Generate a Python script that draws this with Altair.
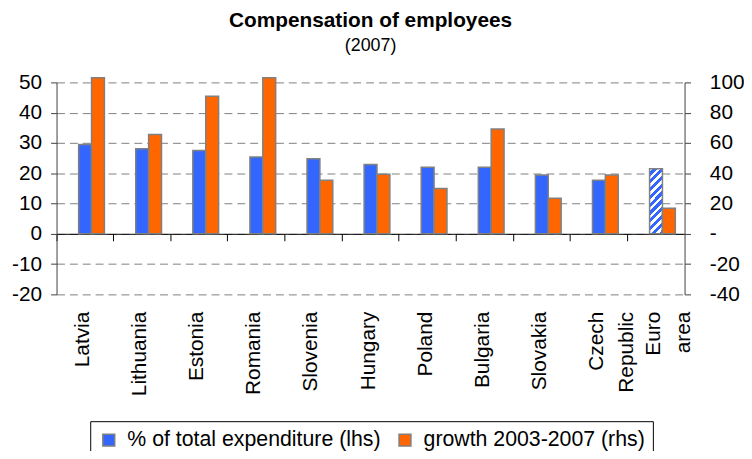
import altair as alt
import pandas as pd

# ---- data ----
countries = ["Latvia", "Lithuania", "Estonia", "Romania", "Slovenia", "Hungary",
             "Poland", "Bulgaria", "Slovakia", "Czech Republic", "Euro area"]
share_total_exp = [29.5, 28.1, 27.5, 25.4, 24.8, 22.9, 22.0, 22.0, 19.4, 17.7, 21.5]
growth_03_07 = [103, 65.6, 90.8, 103, 35.3, 39.3, 30.0, 69.3, 23.5, 38.8, 16.9]
series_names = ["% of total expenditure (lhs)", "growth 2003-2007 (rhs)"]
series_colors = ["#3366FF", "#FF6600"]
lhs_ticks = [-20, -10, 0, 10, 20, 30, 40, 50]
rhs_ticks = [-40, -20, 0, 20, 40, 60, 80, 100]
hatched_country = "Euro area"

df = pd.DataFrame({"country": countries, "share": share_total_exp, "growth": growth_03_07})

FONT = "Liberation Sans"
FS = 21
W, H = 634, 214
LHS_DOMAIN = [-20, 50]
RHS_DOMAIN = [-40, 100]
zero_offset = -(H * (0 - LHS_DOMAIN[0]) / (LHS_DOMAIN[1] - LHS_DOMAIN[0]))

BAR_W = 13
EDGE = "#808080"

x_scale = alt.Scale(domain=countries, paddingInner=0, paddingOuter=0)

color_scale = alt.Scale(domain=series_names, range=series_colors)
legend = alt.Legend(
    title=None, orient="none", legendX=34, legendY=342, direction="horizontal",
    symbolType="square", symbolSize=144, symbolStrokeColor=EDGE, symbolStrokeWidth=1.5,
    symbolOpacity=1, labelFont=FONT, labelFontSize=21.5, labelColor="black", labelLimit=500,
    strokeColor="black", fillColor="white", padding=8, columnPadding=13, labelOffset=8,
)

# hatch fill approximated with a striped linear gradient
stops = []
n_stripes = 10
for i in range(n_stripes):
    a = i / n_stripes
    b = (i + 0.45) / n_stripes
    c = (i + 1) / n_stripes
    stops += [alt.GradientStop(offset=a, color="white"), alt.GradientStop(offset=b, color="white"),
              alt.GradientStop(offset=b, color=series_colors[0]), alt.GradientStop(offset=c, color=series_colors[0])]
hatch = alt.LinearGradient(gradient="linear", x1=0, y1=0, x2=0.2308, y2=1.154, stops=stops)

left_axis = alt.Axis(
    values=lhs_ticks, title=None, grid=True, gridDash=[8, 5], gridColor=EDGE, gridWidth=1,
    domainColor="#404040", domainWidth=1, tickColor="#404040", tickSize=6, labelPadding=9,
    labelFont=FONT, labelFontSize=FS, labelColor="black", labelOverlap=False,
    labelExpr="'' + datum.value",
)
left_scale = alt.Scale(domain=LHS_DOMAIN, nice=False, zero=False)

base = alt.Chart(df)

blue = base.transform_filter(alt.datum.country != hatched_country).transform_calculate(
    series=f"'{series_names[0]}'"
).mark_bar(width=BAR_W, stroke=EDGE, strokeWidth=1.5).encode(
    x=alt.X("country:N", sort=countries, scale=x_scale,
            axis=alt.Axis(title=None, domain=False, ticks=False, tickSize=0, labelAngle=270,
                          labelPadding=17, labelOffset=-2, labelFont=FONT, labelFontSize=FS,
                          labelColor="black", labelExpr="split(datum.label, ' ')",
                          labelLineHeight=30, grid=False)),
    y=alt.Y("share:Q", scale=left_scale, axis=left_axis),
    y2=alt.datum(0),
    color=alt.Color("series:N", scale=color_scale, legend=legend),
)

hatched = base.transform_filter(alt.datum.country == hatched_country).mark_bar(
    width=BAR_W, stroke=EDGE, strokeWidth=1.5, fill=hatch
).encode(
    x=alt.X("country:N", sort=countries, scale=x_scale),
    y=alt.Y("share:Q", scale=left_scale, axis=left_axis),
    y2=alt.datum(0),
)

orange = base.transform_calculate(
    series=f"'{series_names[1]}'"
).mark_bar(width=BAR_W, xOffset=BAR_W, stroke=EDGE, strokeWidth=1.5).encode(
    x=alt.X("country:N", sort=countries, scale=x_scale,
            axis=alt.Axis(title=None, orient="bottom", offset=zero_offset, labels=False,
                          domain=True, domainColor="black", domainWidth=1,
                          ticks=True, tickColor="black", tickSize=7, bandPosition=0, grid=False)),
    y=alt.Y("growth:Q",
            scale=alt.Scale(domain=RHS_DOMAIN, nice=False, zero=False),
            axis=alt.Axis(orient="right", values=rhs_ticks, title=None, grid=False,
                          domainColor="#404040", tickColor="#404040", tickSize=6, labelPadding=19,
                          labelFont=FONT, labelFontSize=FS, labelColor="black", labelOverlap=False,
                          labelExpr="datum.value == 0 ? '-' : '' + datum.value")),
    y2=alt.datum(0),
    color=alt.Color("series:N", scale=color_scale, legend=legend),
)

left = alt.layer(blue, hatched)

chart = alt.layer(left, orange).resolve_scale(y="independent").resolve_axis(x="independent").properties(
    width=W, height=H,
    title=alt.TitleParams(
        text="Compensation of employees", subtitle="(2007)", anchor="middle",
        font=FONT, fontSize=21, fontWeight="bold", color="black",
        subtitleFont=FONT, subtitleFontSize=18, subtitleColor="black", subtitlePadding=6,
        offset=17,
    ),
    autosize=alt.AutoSizeParams(type="none"),
    padding={"left": 49, "top": 73, "right": 60, "bottom": 156},
    background="white",
).configure_view(stroke=None)

chart.save("out.html", embed_options={"renderer": "svg", "actions": False})
